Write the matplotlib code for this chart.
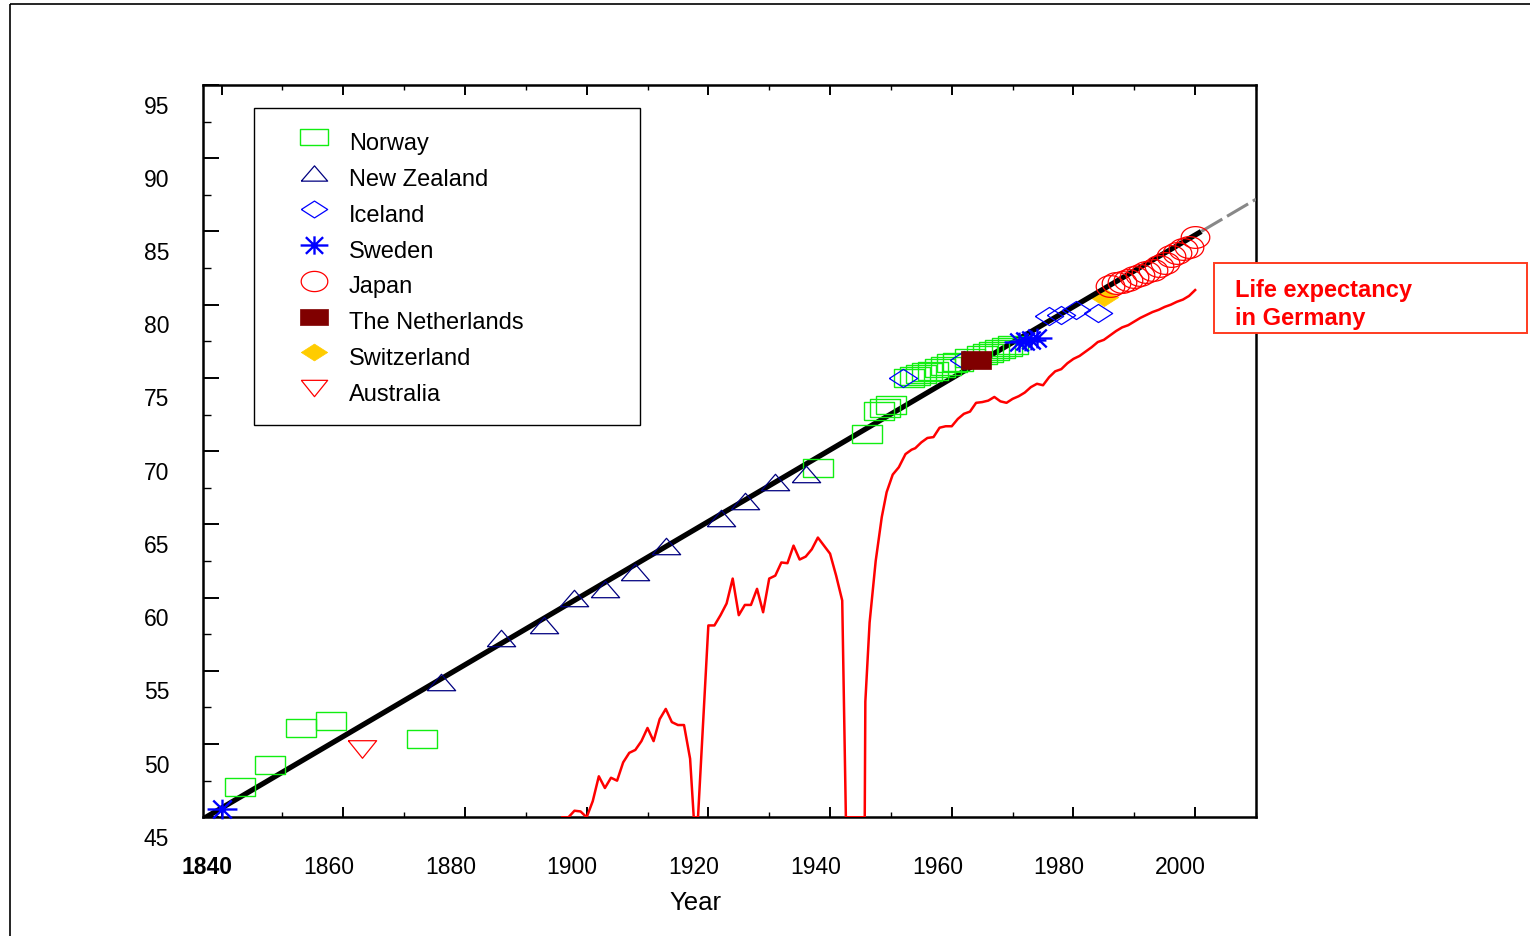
import matplotlib
matplotlib.use('Agg')
import matplotlib.pyplot as plt
import numpy as np
from matplotlib.path import Path
from matplotlib.patches import Rectangle
from matplotlib.transforms import ScaledTranslation

plt.rcParams['font.family'] = ['Liberation Sans', 'DejaVu Sans']

# record female life expectancy (year, years)
norway_years = [1843, 1848, 1853, 1858, 1873, 1938, 1946, 1948, 1949, 1950,
                1953, 1954, 1955, 1956, 1957, 1958, 1959, 1960, 1961, 1963,
                1965, 1966, 1967, 1968, 1969, 1970]
norway_le = [47.06, 48.54, 51.09, 51.6, 50.37, 68.88, 71.2, 72.74, 72.98, 73.15,
             75.0, 75.1, 75.25, 75.4, 75.5, 75.65, 75.8, 76.0, 76.1, 76.35,
             76.55, 76.7, 76.85, 77.0, 77.1, 77.25]

nz_years = [1876, 1886, 1893, 1898, 1903, 1908, 1913, 1922, 1926, 1931, 1936]
nz_le = [54.24, 57.27, 58.11, 59.97, 60.56, 61.73, 63.5, 65.43, 66.58, 67.9, 68.47]

iceland_years = [1952, 1962, 1976, 1978, 1980.5, 1984]
iceland_le = [74.97, 76.2, 79.2, 79.27, 79.67, 79.4]

sweden_years = [1840, 1971, 1972, 1973, 1974]
sweden_le = [45.6, 77.45, 77.5, 77.6, 77.75]

japan_years = list(range(1986, 2001))
japan_le = [81.3, 81.45, 81.55, 81.7, 81.9, 82.05, 82.2, 82.35, 82.65, 82.85,
            83.3, 83.55, 83.8, 83.95, 84.6]

netherlands_years = [1964]
netherlands_le = [76.2]

switzerland_years = [1985]
switzerland_le = [80.55]

australia_years = [1863]
australia_le = [49.63]

# best-practice trend line and its extrapolation
trend_years = [1837, 2001]
trend_le = [44.9, 85.0]
extension_years = [2001, 2010]
extension_le = [85.0, 87.2]

# life expectancy in Germany (values under 45 sit on the axis floor)
germany_years = [1896, 1897, 1898, 1899, 1900, 1901, 1902, 1903, 1904, 1905,
                 1906, 1907, 1908, 1909, 1910, 1911, 1912, 1913, 1914, 1915,
                 1916, 1917, 1917.6, 1918.3, 1920, 1921, 1922, 1923, 1924, 1925,
                 1926, 1927, 1928, 1929, 1930, 1931, 1932, 1933, 1934, 1935,
                 1936, 1937, 1938, 1939, 1940, 1941, 1942, 1942.6, 1945.7, 1945.8,
                 1946.5, 1947.5, 1948.5, 1949.3, 1950.3, 1951.3, 1952.4, 1953.4, 1954, 1955,
                 1956, 1957, 1958, 1959, 1960, 1961, 1962, 1963, 1964, 1965,
                 1966, 1967, 1968, 1969, 1970, 1971, 1972, 1973, 1974, 1975,
                 1976, 1977, 1978, 1979, 1980, 1981, 1982, 1983, 1984, 1985,
                 1986, 1987, 1988, 1989, 1990, 1991, 1992, 1993, 1994, 1995,
                 1996, 1997, 1998, 1999, 2000]
germany_le = [45.0, 45.0, 45.45, 45.4, 45.0, 46.1, 47.8, 47.0, 47.7, 47.5,
              48.75, 49.4, 49.6, 50.2, 51.1, 50.2, 51.7, 52.4, 51.5, 51.3,
              51.3, 49.0, 45.0, 45.0, 58.1, 58.1, 58.8, 59.6, 61.3, 58.8,
              59.5, 59.5, 60.6, 59.0, 61.3, 61.5, 62.4, 62.35, 63.55, 62.6,
              62.8, 63.3, 64.1, 63.55, 63.0, 61.5, 59.8, 45.0, 45.0, 52.9,
              58.3, 62.5, 65.5, 67.2, 68.4, 68.9, 69.8, 70.1, 70.2, 70.6,
              70.9, 70.96, 71.6, 71.7, 71.7, 72.2, 72.55, 72.7, 73.3, 73.35,
              73.45, 73.7, 73.4, 73.3, 73.57, 73.75, 74.0, 74.37, 74.6, 74.5,
              75.05, 75.45, 75.6, 76.0, 76.3, 76.5, 76.8, 77.1, 77.45, 77.6,
              77.9, 78.2, 78.45, 78.6, 78.85, 79.1, 79.3, 79.5, 79.65, 79.85,
              80.0, 80.2, 80.35, 80.6, 81.0]

x_ticks = [1840, 1860, 1880, 1900, 1920, 1940, 1960, 1980, 2000]
y_ticks = [45, 50, 55, 60, 65, 70, 75, 80, 85, 90, 95]

# marker shapes (wider than tall, like the original)
RECT = [(-1, -0.62), (1, -0.62), (1, 0.62), (-1, 0.62), (-1, -0.62)]
TRI_UP = [(-1, -0.58), (1, -0.58), (0, 0.58), (-1, -0.58)]
TRI_DN = [(-1, 0.62), (1, 0.62), (0, -0.62), (-1, 0.62)]
DIAM = [(-1, 0), (0, 0.64), (1, 0), (0, -0.64), (-1, 0)]
t = np.linspace(0, 2 * np.pi, 61)
ELLIPSE = list(zip(np.cos(t), 0.76 * np.sin(t)))
STAR = Path([(-1, 0), (1, 0), (0, -0.66), (0, 0.66),
             (-0.62, -0.6), (0.62, 0.6), (-0.62, 0.6), (0.62, -0.6)],
            [Path.MOVETO, Path.LINETO] * 4)

styles = {
    'Norway': dict(marker=RECT, ms=21.0, mfc='none', mec='#11ee11', mew=1.0),
    'New Zealand': dict(marker=TRI_UP, ms=20.4, mfc='none', mec='#000080', mew=0.9),
    'Iceland': dict(marker=DIAM, ms=20.4, mfc='none', mec='#0000ff', mew=0.9),
    'Sweden': dict(marker=STAR, ms=21.5, mfc='none', mec='#0000ff', mew=1.7),
    'Japan': dict(marker=ELLIPSE, ms=20.6, mfc='none', mec='#ff0000', mew=0.9),
    'The Netherlands': dict(marker=RECT, ms=21.0, mfc='#800000', mec='#800000', mew=0.5),
    'Switzerland': dict(marker=DIAM, ms=20.4, mfc='#ffcc00', mec='#ffcc00', mew=0.5),
    'Australia': dict(marker=TRI_DN, ms=20.4, mfc='none', mec='#ff0000', mew=0.9),
}

fig = plt.figure(figsize=(15.3, 9.37), dpi=100)
ax = fig.add_axes([203.3 / 1530, 1 - 818.3 / 937, (1256 - 203.3) / 1530, (818.3 - 86) / 937])

ax.plot(germany_years, germany_le, color='#ff0000', lw=1.8, zorder=3)

ax.plot(switzerland_years, switzerland_le, ls='none', zorder=3.2, clip_on=False,
        **styles['Switzerland'])
ax.plot(trend_years, trend_le, color='black', lw=3.8, solid_capstyle='butt', zorder=3.5)
ax.plot(extension_years, extension_le, color='#888888', lw=2.2, dashes=(8, 1.8), zorder=3.5)

series = [
    ('Norway', norway_years, norway_le),
    ('New Zealand', nz_years, nz_le),
    ('Iceland', iceland_years, iceland_le),
    ('Sweden', sweden_years, sweden_le),
    ('Japan', japan_years, japan_le),
    ('The Netherlands', netherlands_years, netherlands_le),
    ('Australia', australia_years, australia_le),
]
for name, xs, ys in series:
    ax.plot(xs, ys, ls='none', zorder=4, clip_on=False, **styles[name])

ax.set_xlim(1837, 2010)
ax.set_ylim(45, 95)
ax.set_xticks(x_ticks)
ax.set_xticklabels([str(v) for v in x_ticks])
ax.set_xticks(np.arange(1850, 2011, 20), minor=True)
ax.set_yticks(y_ticks)
ax.set_yticklabels([str(v) for v in y_ticks])
ax.set_yticks(np.arange(47.5, 95, 5), minor=True)

ax.tick_params(axis='x', which='major', direction='in', top=True, length=7.2, width=1.4,
               labelsize=16.5, pad=27)
ax.tick_params(axis='x', which='minor', direction='in', top=True, length=3.8, width=1.0)
ax.tick_params(axis='y', which='major', direction='in', right=False, length=11.5, width=1.4,
               labelsize=16.5, pad=24.5)
ax.tick_params(axis='y', which='minor', direction='in', right=False, length=5.8, width=1.0)
for sp in ax.spines.values():
    sp.set_linewidth(1.8)

# labels in the original sit off their ticks: x labels to the left, y labels below
dx = ScaledTranslation(-14.5 / 100, 0, fig.dpi_scale_trans)
dy = ScaledTranslation(0, -18.5 / 100, fig.dpi_scale_trans)
for lab in ax.get_xticklabels():
    lab.set_transform(lab.get_transform() + dx)
for lab in ax.get_yticklabels():
    lab.set_transform(lab.get_transform() + dy)
ax.get_xticklabels()[0].set_fontweight('bold')

# overlay in pixel coordinates for legend, note box and page border
ov = fig.add_axes([0, 0, 1, 1], zorder=5)
ov.set_xlim(0, 1530)
ov.set_ylim(937, 0)
ov.axis('off')
ov.patch.set_alpha(0)

ov.add_patch(Rectangle((10, 5), 1600, 1000, fill=False, ec='black', lw=1.2))
ov.add_patch(Rectangle((254, 109.3), 386, 316.4, fill=False, ec='black', lw=1.0))

legend_names = ['Norway', 'New Zealand', 'Iceland', 'Sweden', 'Japan',
                'The Netherlands', 'Switzerland', 'Australia']
for i, name in enumerate(legend_names):
    st = dict(styles[name])
    st['ms'] = st['ms'] * 0.93
    ov.plot([314], [138.3 + 35.85 * i], ls='none', **st)
    ov.text(349, 150 + 35.85 * i, name, fontsize=17, va='baseline', ha='left')

ov.text(695, 910, 'Year', fontsize=18.5, ha='center', va='baseline')

ov.add_patch(Rectangle((1214, 264), 313, 70, fc='white', ec='#ff3b1f', lw=1.4))
ov.text(1235, 297, 'Life expectancy', fontsize=17, fontweight='bold', color='#ff0000',
        va='baseline')
ov.text(1235, 325, 'in Germany', fontsize=17, fontweight='bold', color='#ff0000',
        va='baseline')

fig.savefig('out.png', dpi=100)
plt.close(fig)
